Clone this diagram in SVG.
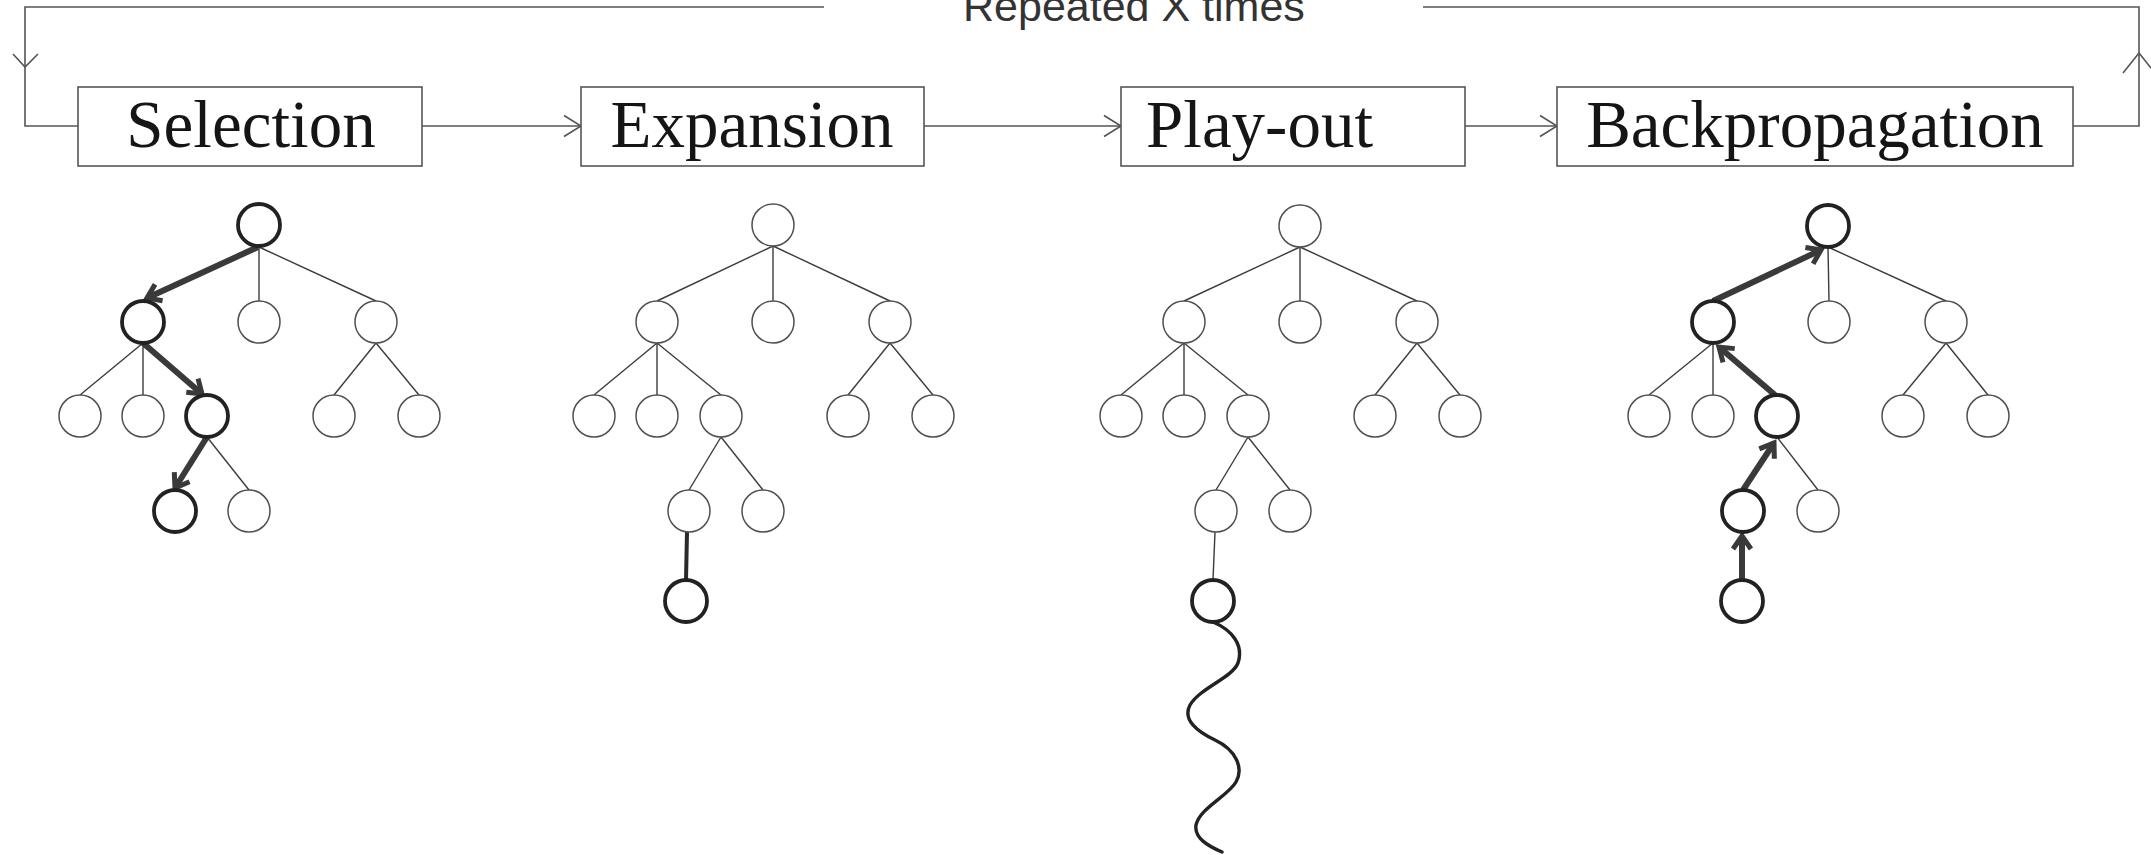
<svg xmlns="http://www.w3.org/2000/svg" width="2151" height="855" viewBox="0 0 2151 855">
  <style>
    .box { fill: #ffffff; stroke: #555555; stroke-width: 1.6; }
    .label { font-family: "Liberation Serif", "Times New Roman", serif; font-size: 67px; fill: #151515; }
    .loop { font-family: "Liberation Sans", Arial, sans-serif; font-size: 43px; fill: #333333; }
    .flow { fill: none; stroke: #555555; stroke-width: 1.6; }
    .edge { fill: none; stroke: #3c3c3c; stroke-width: 1.4; }
    .path { fill: none; stroke: #3a3a3a; stroke-width: 6; }
    .pathline { fill: none; stroke: #2a2a2a; stroke-width: 4; }
    .node { fill: #ffffff; stroke: #505050; stroke-width: 1.5; }
    .hot { fill: #ffffff; stroke: #222222; stroke-width: 3.8; }
    .wave { fill: none; stroke: #222222; stroke-width: 3.4; stroke-linecap: round; }
  </style>
  <defs>
    <marker id="flowHead" markerUnits="userSpaceOnUse" markerWidth="24" markerHeight="26" viewBox="-20 -13 24 26" refX="0" refY="0" orient="auto">
      <path d="M-17,-10.5 L0,0 L-17,10.5" fill="none" stroke="#555555" stroke-width="1.6"/>
    </marker>
    <marker id="boldHead" markerUnits="userSpaceOnUse" markerWidth="28" markerHeight="28" viewBox="-20 -14 26 28" refX="0" refY="0" orient="auto">
      <path d="M-13,-9 L0,0 L-13,9" fill="none" stroke="#3a3a3a" stroke-width="5" stroke-linejoin="miter"/>
    </marker>
  </defs>

  <rect width="2151" height="855" fill="#ffffff"/>

  <!-- iteration loop and flow between the four phases -->
  <g id="connectors">
    <path class="flow" d="M2073,126 H2139 V7 H1423"/>
    <path class="flow" d="M824,7 H25 V126 H78"/>
    <polyline class="flow" points="13,54 25,67 38,54"/>
    <polyline class="flow" points="2123,73 2139,53 2155,73"/>
    <text class="loop" x="963" y="21">Repeated X times</text>
    <line class="flow" x1="422" y1="126" x2="581" y2="126" marker-end="url(#flowHead)"/>
    <line class="flow" x1="924" y1="126" x2="1121" y2="126" marker-end="url(#flowHead)"/>
    <line class="flow" x1="1465" y1="126" x2="1557" y2="126" marker-end="url(#flowHead)"/>
  </g>

  <g id="selection">
    <rect class="box" x="78" y="87" width="344" height="79"/>
    <text class="label" x="251" y="147" text-anchor="middle">Selection</text>
  </g>
  <g id="expansion">
    <rect class="box" x="581" y="87" width="343" height="79"/>
    <text class="label" x="752" y="147" text-anchor="middle">Expansion</text>
  </g>
  <g id="play-out">
    <rect class="box" x="1121" y="87" width="344" height="79"/>
    <text class="label" x="1146" y="147">Play-out</text>
  </g>
  <g id="backpropagation">
    <rect class="box" x="1557" y="87" width="516" height="79"/>
    <text class="label" x="1815" y="147" text-anchor="middle">Backpropagation</text>
  </g>

  <!-- tree 1: selection path descends from the root -->
  <g id="tree-selection">
    <g class="edges">
      <line class="edge" x1="259" y1="247" x2="259" y2="301"/>
      <line class="edge" x1="259" y1="247" x2="376" y2="301"/>
      <line class="edge" x1="143" y1="343" x2="80" y2="395"/>
      <line class="edge" x1="143" y1="343" x2="143" y2="395"/>
      <line class="edge" x1="376" y1="343" x2="334" y2="395"/>
      <line class="edge" x1="376" y1="343" x2="419" y2="395"/>
      <line class="edge" x1="207" y1="437" x2="249" y2="490"/>
      <line class="path" x1="258" y1="247" x2="147" y2="298" marker-end="url(#boldHead)"/>
      <line class="path" x1="143" y1="343" x2="202" y2="394" marker-end="url(#boldHead)"/>
      <line class="path" x1="207" y1="437" x2="175" y2="488" marker-end="url(#boldHead)"/>
    </g>
    <circle class="hot" cx="259" cy="225" r="21"/>
    <circle class="hot" cx="143" cy="322" r="21"/>
    <circle class="node" cx="259" cy="322" r="21"/>
    <circle class="node" cx="376" cy="322" r="21"/>
    <circle class="node" cx="80" cy="416" r="21"/>
    <circle class="node" cx="143" cy="416" r="21"/>
    <circle class="hot" cx="207" cy="416" r="21"/>
    <circle class="node" cx="334" cy="416" r="21"/>
    <circle class="node" cx="419" cy="416" r="21"/>
    <circle class="hot" cx="175" cy="511" r="21"/>
    <circle class="node" cx="249" cy="511" r="21"/>
  </g>

  <!-- tree 2: one new child added -->
  <g id="tree-expansion">
    <g class="edges">
      <line class="edge" x1="773" y1="246" x2="657" y2="301"/>
      <line class="edge" x1="773" y1="246" x2="773" y2="301"/>
      <line class="edge" x1="773" y1="246" x2="890" y2="301"/>
      <line class="edge" x1="657" y1="343" x2="594" y2="395"/>
      <line class="edge" x1="657" y1="343" x2="657" y2="395"/>
      <line class="edge" x1="657" y1="343" x2="721" y2="395"/>
      <line class="edge" x1="890" y1="343" x2="848" y2="395"/>
      <line class="edge" x1="890" y1="343" x2="933" y2="395"/>
      <line class="edge" x1="721" y1="437" x2="689" y2="490"/>
      <line class="edge" x1="721" y1="437" x2="763" y2="490"/>
      <line class="pathline" x1="687" y1="532" x2="686" y2="580"/>
    </g>
    <circle class="node" cx="773" cy="225" r="21"/>
    <circle class="node" cx="657" cy="322" r="21"/>
    <circle class="node" cx="773" cy="322" r="21"/>
    <circle class="node" cx="890" cy="322" r="21"/>
    <circle class="node" cx="594" cy="416" r="21"/>
    <circle class="node" cx="657" cy="416" r="21"/>
    <circle class="node" cx="721" cy="416" r="21"/>
    <circle class="node" cx="848" cy="416" r="21"/>
    <circle class="node" cx="933" cy="416" r="21"/>
    <circle class="node" cx="689" cy="511" r="21"/>
    <circle class="node" cx="763" cy="511" r="21"/>
    <circle class="hot" cx="686" cy="601" r="21"/>
  </g>

  <!-- tree 3: random simulation from the new node -->
  <g id="tree-playout">
    <g class="edges">
      <line class="edge" x1="1300" y1="247" x2="1184" y2="301"/>
      <line class="edge" x1="1300" y1="247" x2="1300" y2="301"/>
      <line class="edge" x1="1300" y1="247" x2="1417" y2="301"/>
      <line class="edge" x1="1184" y1="343" x2="1121" y2="395"/>
      <line class="edge" x1="1184" y1="343" x2="1184" y2="395"/>
      <line class="edge" x1="1184" y1="343" x2="1248" y2="395"/>
      <line class="edge" x1="1417" y1="343" x2="1375" y2="395"/>
      <line class="edge" x1="1417" y1="343" x2="1460" y2="395"/>
      <line class="edge" x1="1248" y1="437" x2="1216" y2="490"/>
      <line class="edge" x1="1248" y1="437" x2="1290" y2="490"/>
      <line class="edge" x1="1215" y1="532" x2="1213" y2="580"/>
    </g>
    <circle class="node" cx="1300" cy="226" r="21"/>
    <circle class="node" cx="1184" cy="322" r="21"/>
    <circle class="node" cx="1300" cy="322" r="21"/>
    <circle class="node" cx="1417" cy="322" r="21"/>
    <circle class="node" cx="1121" cy="416" r="21"/>
    <circle class="node" cx="1184" cy="416" r="21"/>
    <circle class="node" cx="1248" cy="416" r="21"/>
    <circle class="node" cx="1375" cy="416" r="21"/>
    <circle class="node" cx="1460" cy="416" r="21"/>
    <circle class="node" cx="1216" cy="511" r="21"/>
    <circle class="node" cx="1290" cy="511" r="21"/>
    <circle class="hot" cx="1213" cy="601" r="21"/>
    <path class="wave" d="M1213,622 C1232,630 1244,645 1238,663 C1232,678 1200,688 1190,705 C1182,720 1198,732 1215,740 C1236,750 1244,768 1236,782 C1228,796 1200,808 1196,825 C1194,838 1208,846 1222,852"/>
  </g>

  <!-- tree 4: result passed back up to the root -->
  <g id="tree-backprop">
    <g class="edges">
      <line class="edge" x1="1828" y1="247" x2="1829" y2="301"/>
      <line class="edge" x1="1828" y1="247" x2="1946" y2="301"/>
      <line class="edge" x1="1713" y1="343" x2="1649" y2="395"/>
      <line class="edge" x1="1713" y1="343" x2="1713" y2="395"/>
      <line class="edge" x1="1946" y1="343" x2="1903" y2="395"/>
      <line class="edge" x1="1946" y1="343" x2="1988" y2="395"/>
      <line class="edge" x1="1777" y1="437" x2="1818" y2="490"/>
      <line class="path" x1="1713" y1="301" x2="1821" y2="250" marker-end="url(#boldHead)"/>
      <line class="path" x1="1775" y1="395" x2="1719" y2="347" marker-end="url(#boldHead)"/>
      <line class="path" x1="1743" y1="490" x2="1774" y2="443" marker-end="url(#boldHead)"/>
      <line class="path" x1="1742" y1="580" x2="1742" y2="536" marker-end="url(#boldHead)"/>
    </g>
    <circle class="hot" cx="1828" cy="226" r="21"/>
    <circle class="hot" cx="1713" cy="322" r="21"/>
    <circle class="node" cx="1829" cy="322" r="21"/>
    <circle class="node" cx="1946" cy="322" r="21"/>
    <circle class="node" cx="1649" cy="416" r="21"/>
    <circle class="node" cx="1713" cy="416" r="21"/>
    <circle class="hot" cx="1777" cy="416" r="21"/>
    <circle class="node" cx="1903" cy="416" r="21"/>
    <circle class="node" cx="1988" cy="416" r="21"/>
    <circle class="hot" cx="1743" cy="511" r="21"/>
    <circle class="node" cx="1818" cy="511" r="21"/>
    <circle class="hot" cx="1742" cy="601" r="21"/>
  </g>
</svg>
